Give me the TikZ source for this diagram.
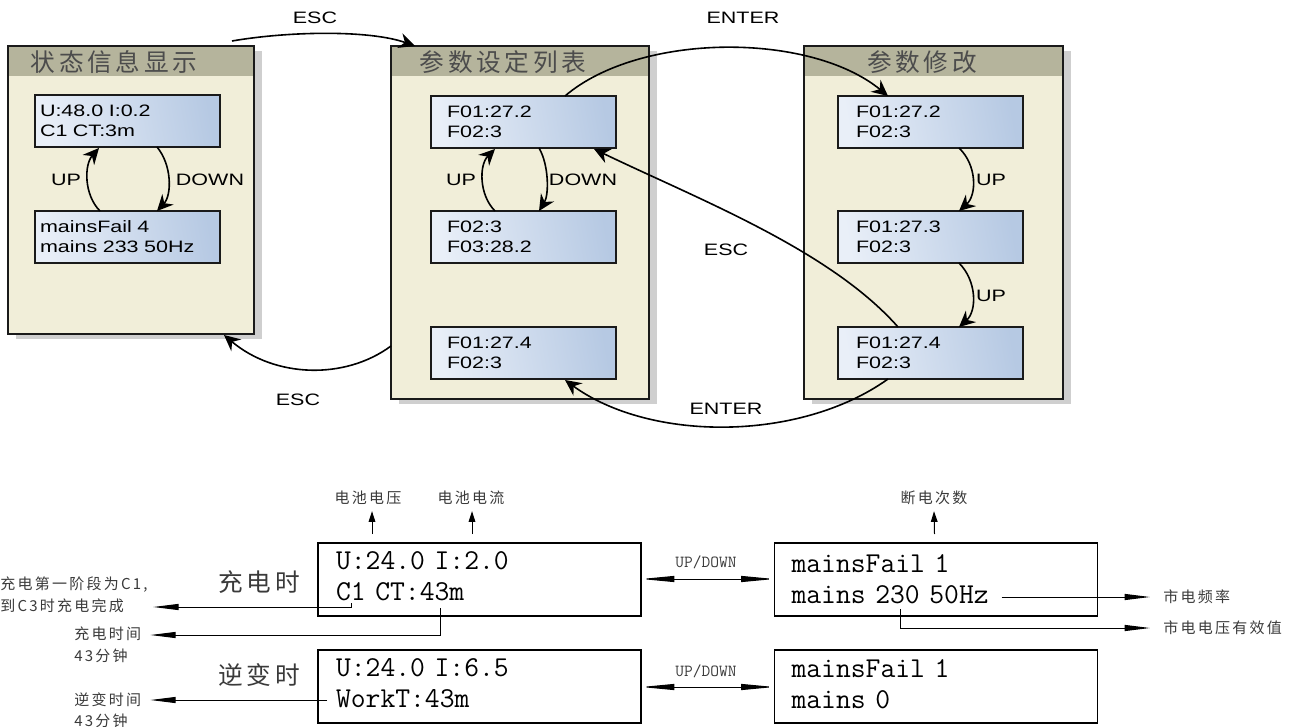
\documentclass[tikz,border=0pt]{standalone}
\usepackage{fontspec}
\usetikzlibrary{arrows.meta}
\newfontfamily\cjkf[LetterSpace=15]{Noto Sans CJK SC}
\newfontfamily\arialw[FakeStretch=1.3]{Liberation Sans}
\definecolor{panelc}{HTML}{F1EED9}
\definecolor{headc}{HTML}{B5B49C}
\definecolor{shadowc}{HTML}{CFCFCF}
\definecolor{linec}{HTML}{1A1A1A}
\definecolor{lcdl}{HTML}{E9EFF8}
\definecolor{lcdr}{HTML}{B6C9E3}
\definecolor{cjkc}{HTML}{3A3A3A}
\newcommand{\dnline}[1]{\rule[-#1]{0pt}{0pt}}
\tikzset{
  x=0.75pt,y=-0.75pt,
  box/.style={anchor=north west,inner sep=0pt,outer sep=0pt},
  panelshadow/.style={box,fill=shadowc},
  panel/.style={box,fill=panelc,draw=linec,line width=1.1pt},
  band/.style={box,fill=headc},
  headtext/.style={font=\cjkf\fontsize{18.5}{20}\selectfont,text=black!70,inner sep=0pt},
  lcd/.style={box,draw=linec,line width=1.1pt,left color=lcdl,right color=lcdr,shading angle=100,
    font=\arialw\fontsize{12.4}{15}\selectfont,align=left,minimum width=138.75pt,minimum height=39pt,
    text width={(185-2*#1)*0.75pt},inner xsep={#1*0.75pt}},
  lbl/.style={font=\arialw\fontsize{12.4}{15}\selectfont,inner sep=0pt},
  flow/.style={line width=1.2pt,draw=black,-{Stealth[length=12pt,width=11.5pt,inset=4pt]}},
  disp/.style={box,draw=black,line width=0.8pt,font=\ttfamily\fontsize{21.6}{23.25}\selectfont,align=left},
  note/.style={font=\cjkf\fontsize{11.25}{16}\selectfont,text=cjkc,inner sep=0pt},
  bigc/.style={font=\cjkf\fontsize{18.5}{20}\selectfont,text=cjkc,inner sep=0pt},
  updn/.style={font=\ttfamily\fontsize{12.7}{14}\selectfont,text=cjkc,inner sep=0pt},
  upa/.style={line width=0.75pt,-{Stealth[length=8pt,width=5pt,inset=0pt]}},
  longa/.style={line width=0.75pt,-{Stealth[length=19pt,width=4.5pt,inset=0pt]}},
  both/.style={line width=0.75pt,{Stealth[length=25pt,width=4.5pt,inset=0pt]}-{Stealth[length=25pt,width=4.5pt,inset=0pt]}},
}
\begin{document}
\begin{tikzpicture}
\useasboundingbox (0,0) rectangle (1291,727);
% shadows
\node (s1) [panelshadow,minimum width=184.5pt,minimum height=216pt] at (16,51) {};
\node (s2) [panelshadow,minimum width=193.5pt,minimum height=264.75pt] at (399,51) {};
\node (s3) [panelshadow,minimum width=194.25pt,minimum height=264.75pt] at (812,51) {};
% panels
\node (p1) [panel,minimum width=184.5pt,minimum height=216pt] at (8,46) {};
\node (p2) [panel,minimum width=193.5pt,minimum height=264.75pt] at (391,46) {};
\node (p3) [panel,minimum width=194.25pt,minimum height=264.75pt] at (804,46) {};
\node (h1) [band,minimum width=183.4pt,minimum height=22pt] at (8.7,46.7) {};
\node (h2) [band,minimum width=192.4pt,minimum height=22pt] at (391.7,46.7) {};
\node (h3) [band,minimum width=193.15pt,minimum height=22pt] at (804.7,46.7) {};
\node (t1) [headtext] at (114,62) {状态信息显示};
\node (t2) [headtext] at (503,62) {参数设定列表};
\node (t3) [headtext] at (922,62) {参数修改};
% panel 1 displays
\node (a1) [lcd=5] at (35,95) {U:48.0 I:0.2\\C1 CT:3m};
\node (a2) [lcd=5] at (35,211) {mainsFail 4\\mains 233 50Hz};
% panel 2 displays
\node (b1) [lcd=16] at (431,96) {F01:27.2\\F02:3};
\node (b2) [lcd=16] at (431,211) {F02:3\\F03:28.2};
\node (b3) [lcd=16] at (431,327) {F01:27.4\\F02:3};
% panel 3 displays
\node (c1) [lcd=18] at (838,96) {F01:27.2\\F02:3};
\node (c2) [lcd=18] at (838,211) {F01:27.3\\F02:3};
\node (c3) [lcd=18] at (838,327) {F01:27.4\\F02:3};
% labels
\node (l1) [lbl] at (315,18) {ESC};
\node (l2) [lbl] at (298,400) {ESC};
\node (l3) [lbl] at (66,180) {UP};
\node (l4) [lbl] at (210,180) {DOWN};
\node (l5) [lbl] at (461,180) {UP};
\node (l6) [lbl] at (583,180) {DOWN};
\node (l7) [lbl] at (991,180) {UP};
\node (l8) [lbl] at (991,296) {UP};
\node (l9) [lbl] at (743,18) {ENTER};
\node (l10) [lbl] at (726,250) {ESC};
\node (l11) [lbl] at (726,409) {ENTER};
% connectors
\draw[flow] ([shift={(224,-5)}]p1.north west) .. controls (290,31) and (370,30) .. ([shift={(24,0)}]p2.north west);
\draw[flow] ([shift={(0,300)}]p2.north west) .. controls (345,380) and (275,378) .. ([shift={(216,1)}]p1.south west);
\draw[flow] ([shift={(65,0)}]a2.north west) .. controls (84,195) and (84,165) .. ([shift={(64,1)}]a1.south west);
\draw[flow] ([shift={(122,0)}]a1.south west) .. controls (172,165) and (172,195) .. ([shift={(122,0)}]a2.north west);
\draw[flow] ([shift={(64,0)}]b2.north west) .. controls (479,195) and (479,165) .. ([shift={(64,1)}]b1.south west);
\draw[flow] ([shift={(108,0)}]b1.south west) .. controls (549,165) and (549,195) .. ([shift={(108,0)}]b2.north west);
\draw[flow] ([shift={(121,0)}]c1.south west) .. controls (977,165) and (977,195) .. ([shift={(121,0)}]c2.north west);
\draw[flow] ([shift={(121,0)}]c2.south west) .. controls (977,281) and (977,311) .. ([shift={(121,0)}]c3.north west);
\draw[flow] ([shift={(134,0)}]b1.north west) .. controls (640,32) and (810,32) .. ([shift={(50,0)}]c1.north west);
\draw[flow] ([shift={(60,0)}]c3.north west) .. controls (830,250) and (700,200) .. ([shift={(163,1)}]b1.south west);
\draw[flow] ([shift={(50,0)}]c3.south west) .. controls (800,442) and (650,442) .. ([shift={(134,1)}]b3.south west);
% lower displays
\node (d1) [disp,minimum width=242.25pt,minimum height=54.75pt,text width={(323-36)*0.75pt},inner xsep=13.5pt] at (318,543) {U:24.0 I:2.0\\C1 CT:43m\dnline{6pt}};
\node (d2) [disp,minimum width=242.25pt,minimum height=54.75pt,text width={(323-36)*0.75pt},inner xsep=13.5pt] at (318,650) {U:24.0 I:6.5\\WorkT:43m\dnline{6pt}};
\node (d3) [disp,minimum width=242.25pt,minimum height=54.75pt,text width={(323-34)*0.75pt},inner xsep=12.75pt] at (774.5,543) {mainsFail 1\\mains 230 50Hz};
\node (d4) [disp,minimum width=242.25pt,minimum height=54.75pt,text width={(323-34)*0.75pt},inner xsep=12.75pt] at (774.5,650) {mainsFail 1\\mains 0\dnline{3pt}};
% lower notes
\node (n1) [note] at (368,498) {电池电压};
\node (n2) [note] at (471,498) {电池电流};
\node (n3) [note] at (934,498) {断电次数};
\node (n4) [note,anchor=west] at (0,585) {充电第一阶段为C1,};
\node (n5) [note,anchor=west] at (0,606) {到C3时充电完成};
\node (n6) [note,anchor=west] at (74,634) {充电时间};
\node (n7) [note,anchor=west] at (74,656) {43分钟};
\node (n8) [note,anchor=west] at (74,700) {逆变时间};
\node (n9) [note,anchor=west] at (74,721) {43分钟};
\node (n10) [note,anchor=west] at (1163,597) {市电频率};
\node (n11) [note,anchor=west] at (1163,628) {市电电压有效值};
\node (g1) [bigc] at (259,582) {充电时};
\node (g2) [bigc] at (259,675) {逆变时};
\node (u1) [updn] at (706,562) {UP/DOWN};
\node (u2) [updn] at (706,671) {UP/DOWN};
% lower arrows
\draw[upa] ([shift={(54,-9)}]d1.north west) -- ([shift={(4,6)}]n1.south);
\draw[upa] ([shift={(154,-9)}]d1.north west) -- ([shift={(1,6)}]n2.south);
\draw[upa] ([shift={(160,-9)}]d3.north west) -- ([shift={(0,6)}]n3.south);
\draw[longa] ([shift={(33,-13)}]d1.south west) |- ([shift={(29,1)}]n5.east);
\draw[longa] ([shift={(122,-8)}]d1.south west) |- ([shift={(9,1)}]n6.east);
\draw[longa] ([shift={(9,50)}]d2.north west) -- ([shift={(9,0)}]n8.east);
\draw[both] ([shift={(323,36)}]d1.north west) -- ([shift={(0,36)}]d3.north west);
\draw[both] ([shift={(323,37)}]d2.north west) -- ([shift={(0,37)}]d4.north west);
\draw[longa] ([shift={(227,54)}]d3.north west) -- ([shift={(-13,0)}]n10.west);
\draw[longa] ([shift={(126,66)}]d3.north west) |- ([shift={(-13,0)}]n11.west);
\end{tikzpicture}
\end{document}
